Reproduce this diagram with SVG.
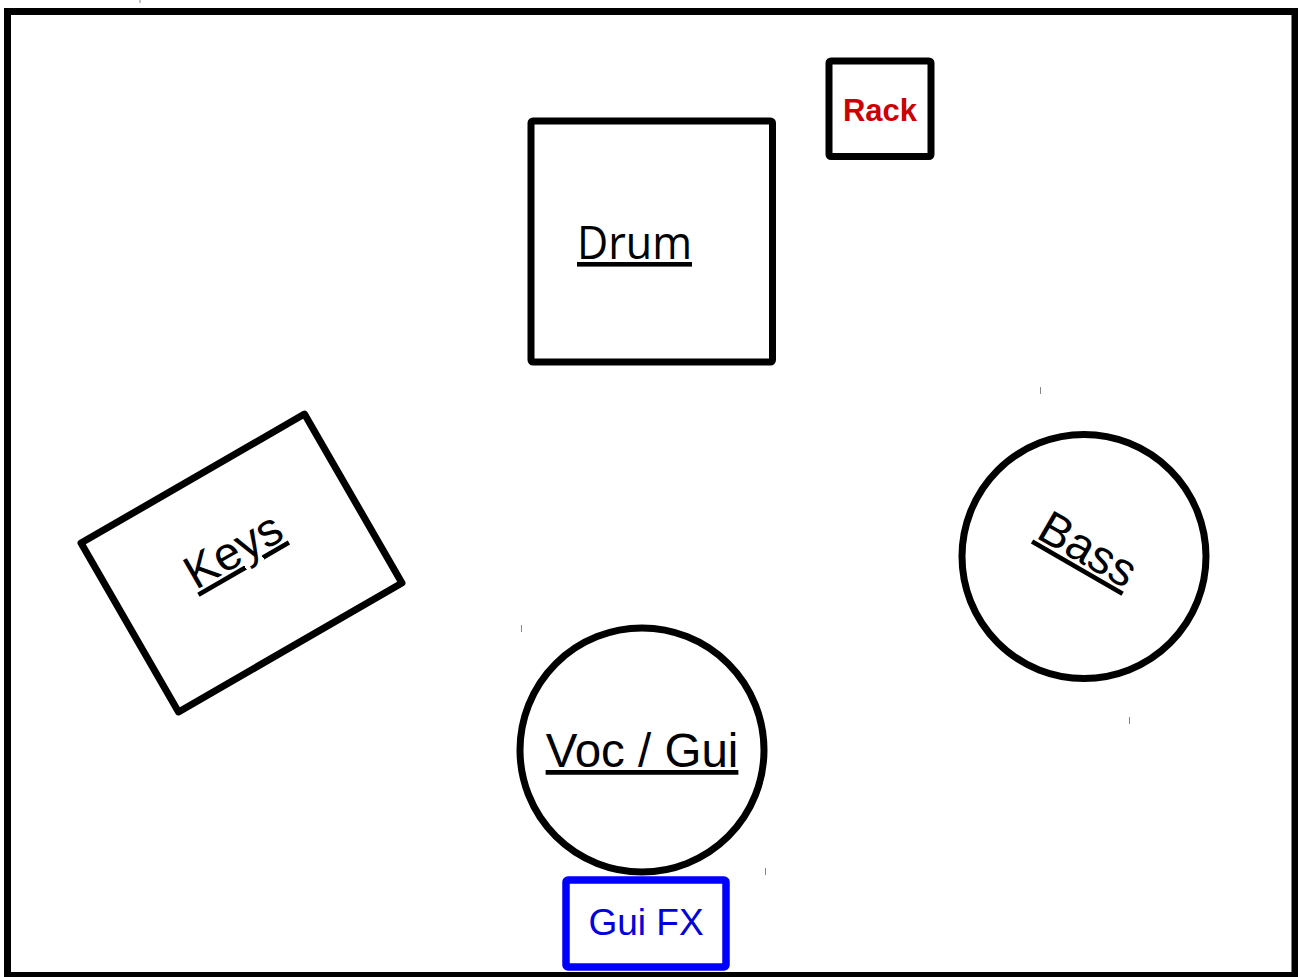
<svg xmlns="http://www.w3.org/2000/svg" width="1298" height="977" viewBox="0 0 1298 977">
<style>
.frame{fill:#fff;stroke:#000;stroke-width:7}
.shape{fill:#fff;stroke:#000;stroke-width:7;stroke-linejoin:round}
.lbl{font-family:"Liberation Sans",Arial,sans-serif;fill:#000;text-anchor:middle}
.ul{text-decoration:underline}
.tick{stroke:#888;stroke-width:1}
</style>
<rect x="0" y="0" width="1298" height="977" fill="#fff"/>
<rect class="frame" x="7.5" y="11.5" width="1287.5" height="964"/>
<g id="ticks">
<line class="tick" x1="140" y1="0" x2="140" y2="3"/>
<line class="tick" x1="1040.5" y1="387" x2="1040.5" y2="394"/>
<line class="tick" x1="521.5" y1="625" x2="521.5" y2="632"/>
<line class="tick" x1="1129.5" y1="717" x2="1129.5" y2="724"/>
<line class="tick" x1="765.5" y1="868" x2="765.5" y2="875"/>
</g>
<g id="connectors"></g>
<g id="drum">
<rect class="shape" x="531" y="121" width="241.5" height="241" rx="2"/>
<text class="lbl ul" x="634.5" y="259" style="font-family:'Open Sans','Noto Sans',sans-serif" font-size="46" textLength="115" lengthAdjust="spacingAndGlyphs">Drum</text>
</g>
<g id="rack">
<rect class="shape" x="829" y="61" width="102" height="95.5" rx="2"/>
<text class="lbl" x="880" y="121" font-size="31" font-weight="bold" style="fill:#cc0000">Rack</text>
</g>
<g id="keys">
<rect class="shape" x="112.5" y="465.5" width="258" height="195" transform="rotate(-30 241.5 563)"/>
<text class="lbl ul" x="241" y="564" font-size="47" transform="rotate(-30 241 564)">Keys</text>
</g>
<g id="bass">
<circle class="shape" cx="1084" cy="556.5" r="122"/>
<text class="lbl ul" x="1080" y="563" font-size="47" transform="rotate(30 1080 563)">Bass</text>
</g>
<g id="vocgui">
<circle class="shape" cx="642" cy="750" r="122"/>
<text class="lbl ul" x="642" y="767" font-size="47.5">Voc / Gui</text>
</g>
<g id="guifx">
<rect x="566" y="880" width="160" height="87" rx="2" fill="#fff" stroke="#0000ff" stroke-width="7.5" stroke-linejoin="round"/>
<text class="lbl" x="646" y="935" font-size="37" style="fill:#0000dd">Gui FX</text>
</g>
</svg>
